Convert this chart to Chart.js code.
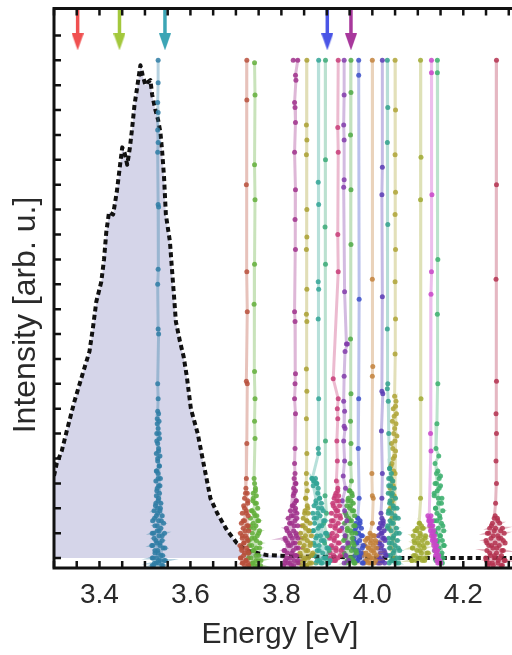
<!DOCTYPE html>
<html>
<head>
<meta charset="utf-8">
<script src="https://cdn.jsdelivr.net/npm/chart.js@4/dist/chart.umd.min.js"></script>
<style>
  html, body { margin: 0; padding: 0; overflow: hidden; background: #fff; }
  #wrap { width: 540px; height: 655px; }
</style>
</head>
<body>
<div id="wrap"><canvas id="chart" width="540" height="655"></canvas></div>
<script>
// axis range and labelled ticks
const xMin = 3.3;
const xMax = 4.35;
const yMin = -0.4;
const yMax = 22.08;
const xTickLabels = [3.4, 3.6, 3.8, 4.0, 4.2];
const xTitle = "Energy [eV]";
const yTitle = "Intensity [arb. u.]";

// ensemble PL spectrum (dashed curve with fill)
const plE = [3.300, 3.306, 3.317, 3.328, 3.345, 3.363, 3.378, 3.386, 3.393, 3.404, 3.410, 3.415, 3.421, 3.430, 3.438,
  3.444, 3.450, 3.455, 3.461, 3.467, 3.472, 3.477, 3.482, 3.486, 3.490, 3.495, 3.501, 3.505, 3.512, 3.516, 3.523,
  3.529, 3.534, 3.538, 3.542, 3.546, 3.555, 3.559, 3.564, 3.568, 3.577, 3.585, 3.592, 3.601, 3.616, 3.631, 3.644,
  3.659, 3.681, 3.702, 3.724, 3.767, 3.810, 3.897, 4.048, 4.178, 4.350];
const plI = [3.3, 3.8, 4.3, 5.1, 6.3, 7.4, 8.3, 9.3, 10.3, 11.1, 12.0, 13.1, 13.9, 13.8, 14.7,
  15.6, 16.5, 16.3, 15.8, 16.5, 17.3, 18.2, 18.8, 19.3, 19.8, 19.4, 19.0, 19.1, 19.2, 18.6, 18.0,
  17.6, 17.1, 16.3, 15.3, 13.8, 12.7, 11.7, 10.5, 9.5, 8.7, 8.1, 7.3, 6.0, 5.0, 3.6, 2.4,
  1.8, 1.1, 0.6, 0.3, 0.12, 0.08, 0.05, 0.0, 0.0, 0.0];

// single emitter traces [energy, intensity]
const em3528 = [[3.529,20.0],[3.529,19.1],[3.528,18.3],[3.529,17.9],[3.528,17.2],[3.529,16.7],[3.528,16.3],[3.529,14.2],[3.530,14.1],[3.529,11.6],[3.528,11.0],[3.529,9.2],[3.530,9.0],[3.528,7.0],[3.529,6.4],[3.528,5.9],[3.530,5.8],
  [3.527,5.4],[3.531,5.0],[3.526,4.7],[3.530,4.3],[3.528,4.0],[3.532,3.7],[3.525,3.5],[3.529,3.2],[3.533,2.9],[3.526,2.7],[3.530,2.4],[3.524,2.2],[3.534,2.0],[3.528,1.8],[3.521,1.6],[3.536,1.5],[3.527,1.3],[3.531,1.1],[3.519,1.0],[3.538,0.9],[3.524,0.7],[3.533,0.6],[3.517,0.5],[3.540,0.4],[3.528,0.3],[3.522,0.2],[3.535,0.1],[3.516,0.0],[3.530,-0.1],[3.542,-0.1],[3.525,-0.2],[3.519,-0.3],[3.537,-0.3]];
const cl3528 = [[3.527,5.6],[3.531,5.5],[3.529,5.2],[3.526,5.0],[3.532,4.8],[3.528,4.6],[3.530,4.4],[3.525,4.2],[3.533,4.1],[3.528,3.9],[3.531,3.7],[3.526,3.5],[3.529,3.4],[3.534,3.2],[3.524,3.1],[3.530,2.9],[3.527,2.8],[3.532,2.6],[3.525,2.5],[3.529,2.3],[3.535,2.2],[3.523,2.1],
  [3.528,2.0],[3.520,1.9],[3.533,1.9],[3.538,1.7],[3.525,1.7],[3.517,1.5],[3.530,1.5],[3.541,1.4],[3.522,1.3],[3.535,1.2],[3.527,1.1],[3.516,1.0],[3.543,1.0],[3.531,0.9],[3.520,0.8],[3.538,0.7],[3.526,0.6],[3.515,0.5],[3.533,0.5],[3.544,0.4],[3.522,0.3],[3.529,0.2],[3.539,0.1],[3.518,0.0],[3.526,0.0],[3.534,-0.1],[3.545,-0.1],[3.521,-0.2],[3.530,-0.2],[3.516,-0.3],[3.540,-0.3]];
const em3724 = [[3.724,20.0],[3.724,18.4],[3.723,15.0],[3.724,11.5],[3.725,9.9],[3.723,7.1],[3.725,7.0],[3.724,4.6],[3.723,3.2],[3.721,2.6],[3.726,2.3],[3.719,2.0],[3.723,1.8],[3.716,1.5],[3.727,1.3],[3.720,1.1],[3.714,0.9],[3.724,0.8],[3.717,0.6],[3.712,0.4],[3.726,0.3],[3.719,0.2],[3.711,0.0],[3.722,-0.1],[3.715,-0.2],[3.728,-0.3]];
const cl3724 = [[3.722,2.8],[3.725,2.6],[3.719,2.4],[3.726,2.2],[3.717,2.1],[3.723,1.9],[3.714,1.8],[3.727,1.7],[3.719,1.5],[3.712,1.4],[3.724,1.3],[3.716,1.2],[3.728,1.1],[3.710,1.0],[3.721,0.9],[3.714,0.8],[3.726,0.7],[3.718,0.6],[3.709,0.5],[3.723,0.4],[3.713,0.3],[3.728,0.2],[3.717,0.1],[3.710,0.0],[3.722,-0.1],[3.714,-0.2],[3.726,-0.2],[3.719,-0.3]];
const em3741 = [[3.741,19.9],[3.742,18.6],[3.741,15.8],[3.742,14.4],[3.741,11.8],[3.740,10.2],[3.741,7.5],[3.742,6.4],[3.741,5.5],[3.742,4.8],[3.740,3.2],[3.743,2.7],[3.738,2.4],[3.745,2.2],[3.736,1.9],[3.742,1.7],[3.748,1.5],[3.733,1.3],[3.740,1.2],[3.750,1.0],[3.735,0.8],[3.745,0.7],[3.730,0.5],[3.752,0.4],[3.738,0.3],[3.744,0.1],[3.728,0.0],[3.749,-0.1],[3.736,-0.2],[3.754,-0.3],[3.741,-0.3]];
const cl3741 = [[3.741,3.0],[3.743,2.8],[3.738,2.6],[3.745,2.5],[3.737,2.3],[3.742,2.2],[3.748,2.0],[3.734,1.9],[3.740,1.8],[3.746,1.7],[3.732,1.6],[3.750,1.5],[3.738,1.4],[3.744,1.3],[3.730,1.2],[3.752,1.1],[3.736,1.0],[3.747,0.9],[3.741,0.8],[3.729,0.7],[3.753,0.6],[3.735,0.5],[3.745,0.4],[3.739,0.3],[3.727,0.2],[3.750,0.1],[3.733,0.0],[3.744,-0.1],[3.755,-0.1],[3.738,-0.2],[3.730,-0.3],[3.748,-0.3]];
const em3830 = [[3.826,20.0],[3.836,20.0],[3.831,19.4],[3.832,19.2],[3.829,18.3],[3.830,18.1],[3.831,17.5],[3.829,16.3],[3.831,14.8],[3.830,13.6],[3.831,12.4],[3.829,9.9],[3.830,9.5],[3.831,7.4],[3.830,7.0],[3.829,6.4],[3.831,5.8],[3.830,4.4],[3.829,3.8],[3.831,3.0],[3.828,2.6],[3.832,2.3],[3.826,2.1],[3.830,1.9],[3.822,1.7],[3.834,1.6],[3.818,1.4],[3.828,1.3],[3.813,1.1],[3.832,1.0],[3.820,0.9],[3.836,0.8],[3.810,0.7],[3.826,0.6],[3.816,0.5],[3.833,0.4],[3.807,0.3],[3.823,0.2],[3.830,0.1],[3.812,0.0],[3.836,-0.1],[3.819,-0.2],[3.827,-0.3],[3.808,-0.2]];
const cl3830 = [[3.830,3.4],[3.828,3.2],[3.832,3.0],[3.827,2.8],[3.831,2.7],[3.826,2.5],[3.833,2.3],[3.829,2.2],[3.824,2.1],[3.831,2.0],[3.820,1.9],[3.834,1.8],[3.826,1.7],[3.815,1.6],[3.830,1.5],[3.822,1.4],[3.836,1.3],[3.811,1.2],[3.827,1.1],[3.818,1.0],[3.833,0.9],[3.808,0.8],[3.824,0.8],[3.814,0.6],[3.830,0.6],[3.820,0.5],[3.837,0.4],[3.806,0.3],[3.826,0.3],[3.813,0.2],[3.833,0.1],[3.819,0.0],[3.809,-0.1],[3.828,-0.1],[3.836,-0.2],[3.815,-0.2],[3.822,-0.3],[3.805,-0.3]];
const em3856 = [[3.856,20.0],[3.855,17.4],[3.856,16.8],[3.855,16.2],[3.856,14.0],[3.856,12.9],[3.855,12.4],[3.856,10.8],[3.855,9.8],[3.856,9.5],[3.855,7.6],[3.856,6.7],[3.855,5.6],[3.856,4.2],[3.855,3.4],[3.853,2.4],[3.858,2.0],[3.851,1.8],[3.856,1.5],[3.848,1.3],[3.861,1.1],[3.853,0.9],[3.844,0.8],[3.864,0.6],[3.850,0.5],[3.858,0.3],[3.841,0.2],[3.866,0.1],[3.852,0.0],[3.846,-0.1],[3.862,-0.2],[3.855,-0.3]];
const cl3856 = [[3.855,3.0],[3.857,2.7],[3.854,2.4],[3.857,2.1],[3.852,1.9],[3.859,1.8],[3.848,1.6],[3.856,1.5],[3.863,1.4],[3.845,1.3],[3.853,1.2],[3.860,1.1],[3.842,1.0],[3.866,0.9],[3.850,0.8],[3.857,0.7],[3.840,0.6],[3.863,0.5],[3.847,0.4],[3.854,0.3],[3.869,0.2],[3.843,0.1],[3.859,0.0],[3.850,-0.1],[3.866,-0.2],[3.839,-0.2],[3.856,-0.3],[3.845,-0.3]];
const em3882 = [[3.882,20.0],[3.881,15.1],[3.882,14.2],[3.881,11.1],[3.882,10.8],[3.881,9.6],[3.882,6.4],[3.881,4.4],[3.882,4.2],[3.868,3.2],[3.872,3.1],[3.877,3.0],[3.881,2.8],[3.884,2.4],[3.876,2.2],[3.889,2.0],[3.880,1.8],[3.872,1.6],[3.893,1.5],[3.884,1.3],[3.870,1.1],[3.897,1.0],[3.878,0.9],[3.888,0.7],[3.874,0.5],[3.900,0.4],[3.883,0.3],[3.869,0.1],[3.893,0.0],[3.879,-0.1],[3.887,-0.2],[3.904,-0.2]];
const cl3882 = [[3.867,3.2],[3.871,3.1],[3.875,3.2],[3.878,3.0],[3.870,2.9],[3.880,2.6],[3.884,2.4],[3.876,2.3],[3.888,2.2],[3.872,2.1],[3.881,2.0],[3.892,1.9],[3.869,1.8],[3.885,1.7],[3.877,1.6],[3.896,1.5],[3.873,1.4],[3.889,1.3],[3.881,1.2],[3.870,1.1],[3.899,1.0],[3.886,0.9],[3.876,0.8],[3.893,0.7],[3.871,0.6],[3.883,0.5],[3.903,0.4],[3.879,0.3],[3.891,0.2],[3.872,0.1],[3.897,0.0],[3.884,-0.1],[3.907,-0.1],[3.876,-0.2],[3.890,-0.2]];
const em3897 = [[3.897,20.0],[3.897,16.0],[3.896,13.3],[3.897,11.8],[3.897,4.7],[3.896,2.5],[3.899,1.8],[3.893,1.4],[3.901,0.9],[3.895,0.6],[3.905,0.3],[3.897,0.0],[3.902,-0.2]];
const em3925 = [[3.925,20.0],[3.924,17.3],[3.925,16.3],[3.924,13.0],[3.925,11.5],[3.914,7.2],[3.925,6.4],[3.923,6.0],[3.924,5.6],[3.922,4.7],[3.923,3.9],[3.921,3.1],[3.924,2.7],[3.918,2.5],[3.926,2.3],[3.914,2.1],[3.921,1.9],[3.929,1.7],[3.910,1.5],[3.919,1.3],[3.927,1.1],[3.907,0.9],[3.916,0.8],[3.925,0.6],[3.911,0.4],[3.920,0.3],[3.930,0.1],[3.906,0.0],[3.917,-0.1]];
const cl3925 = [[3.924,2.8],[3.920,2.6],[3.926,2.5],[3.916,2.4],[3.922,2.3],[3.913,2.2],[3.928,2.1],[3.918,2.0],[3.924,1.9],[3.910,1.8],[3.920,1.7],[3.930,1.6],[3.914,1.5],[3.925,1.4],[3.908,1.3],[3.918,1.2],[3.929,1.1],[3.912,1.0],[3.922,0.9],[3.906,0.8],[3.916,0.7],[3.927,0.6],[3.910,0.5],[3.920,0.4],[3.931,0.3],[3.907,0.2],[3.915,0.1],[3.924,0.0],[3.911,-0.1],[3.919,-0.1]];
const em3938 = [[3.938,20.0],[3.938,18.6],[3.937,17.4],[3.938,16.8],[3.938,15.2],[3.937,14.9],[3.939,10.7],[3.943,8.6],[3.945,8.6],[3.940,8.3],[3.938,7.3],[3.937,6.3],[3.939,5.9],[3.938,5.3],[3.940,5.2],[3.937,4.7],[3.939,3.9],[3.936,3.3],[3.941,2.8],[3.934,2.3],[3.939,1.9],[3.944,1.5],[3.933,1.2],[3.940,0.9],[3.946,0.6],[3.935,0.4],[3.942,0.1],[3.948,-0.1],[3.938,-0.2]];
const em3953 = [[3.953,20.0],[3.953,18.7],[3.952,17.0],[3.953,14.8],[3.953,12.6],[3.952,8.8],[3.953,6.6],[3.952,5.5],[3.953,4.6],[3.951,3.8],[3.954,3.1],[3.949,2.7],[3.956,2.5],[3.946,2.3],[3.952,2.1],[3.959,1.9],[3.943,1.7],[3.950,1.5],[3.962,1.3],[3.945,1.1],[3.955,1.0],[3.940,0.8],[3.958,0.6],[3.948,0.5],[3.964,0.3],[3.938,0.2],[3.953,0.0],[3.945,-0.1],[3.960,-0.2]];
const cl3953 = [[3.951,2.7],[3.955,2.6],[3.947,2.4],[3.953,2.3],[3.958,2.2],[3.944,2.1],[3.950,2.0],[3.956,1.9],[3.941,1.8],[3.961,1.7],[3.948,1.6],[3.954,1.5],[3.939,1.4],[3.959,1.3],[3.945,1.2],[3.952,1.1],[3.963,1.0],[3.942,0.9],[3.956,0.8],[3.937,0.7],[3.949,0.6],[3.960,0.5],[3.944,0.4],[3.954,0.3],[3.965,0.2],[3.939,0.1],[3.950,0.0],[3.958,-0.1],[3.943,-0.2],[3.962,-0.2]];
const em3970 = [[3.970,20.0],[3.970,19.4],[3.971,10.4],[3.970,6.4],[3.969,4.4],[3.971,2.4],[3.968,1.6],[3.973,1.4],[3.963,1.2],[3.970,1.0],[3.976,0.9],[3.959,0.7],[3.966,0.6],[3.978,0.4],[3.962,0.3],[3.972,0.1],[3.957,0.0],[3.968,-0.1],[3.980,-0.2]];
const cl3970 = [[3.968,1.6],[3.973,1.5],[3.964,1.4],[3.970,1.3],[3.976,1.2],[3.961,1.1],[3.967,1.0],[3.978,0.9],[3.959,0.8],[3.972,0.7],[3.965,0.6],[3.980,0.5],[3.958,0.4],[3.969,0.3],[3.975,0.2],[3.962,0.1],[3.971,0.0],[3.957,-0.1],[3.966,-0.1],[3.978,-0.2]];
const em4000 = [[4.000,20.0],[4.000,11.2],[4.001,7.7],[4.000,7.3],[3.999,3.4],[4.000,2.5],[4.002,2.4],[4.000,1.4],[3.995,1.0],[4.004,0.9],[3.989,0.8],[3.998,0.7],[4.007,0.6],[3.984,0.5],[3.993,0.4],[4.002,0.3],[3.980,0.2],[3.990,0.1],[4.009,0.1],[3.996,0.0],[3.985,-0.1],[4.004,-0.2],[3.992,-0.2]];
const cl4000 = [[3.997,0.9],[4.003,0.9],[3.990,0.8],[4.007,0.7],[3.985,0.7],[3.996,0.6],[4.002,0.5],[3.982,0.5],[3.991,0.4],[4.009,0.4],[3.998,0.3],[3.986,0.2],[4.004,0.2],[3.980,0.1],[3.993,0.1],[4.000,0.0],[3.988,-0.1],[4.007,-0.1],[3.983,-0.2],[3.996,-0.2]];
const em4022 = [[4.022,20.0],[4.022,15.7],[4.021,14.6],[4.022,10.5],[4.021,6.7],[4.023,6.6],[4.020,5.1],[4.022,3.4],[4.021,2.4],[4.019,1.8],[4.024,1.4],[4.016,1.2],[4.021,1.0],[4.026,0.8],[4.014,0.6],[4.019,0.4],[4.028,0.2],[4.016,0.0],[4.022,-0.1],[4.013,-0.2]];
const cl4022 = [[4.021,1.6],[4.024,1.5],[4.018,1.4],[4.022,1.3],[4.015,1.2],[4.026,1.1],[4.019,1.0],[4.013,0.9],[4.023,0.8],[4.028,0.7],[4.016,0.6],[4.021,0.5],[4.012,0.4],[4.026,0.3],[4.018,0.2],[4.030,0.1],[4.014,0.0],[4.022,-0.1],[4.017,-0.2],[4.027,-0.2]];
const em4033 = [[4.033,20.0],[4.034,18.1],[4.033,16.7],[4.034,13.4],[4.033,9.2],[4.034,7.0],[4.033,6.8],[4.035,6.3],[4.036,5.0],[4.038,3.6],[4.041,3.2],[4.036,2.9],[4.044,2.6],[4.039,2.3],[4.047,2.0],[4.035,1.8],[4.050,1.6],[4.042,1.4],[4.033,1.2],[4.053,1.0],[4.045,0.8],[4.037,0.6],[4.057,0.4],[4.048,0.3],[4.040,0.1],[4.060,0.0],[4.044,-0.1],[4.052,-0.2]];
const cl4033 = [[4.038,3.6],[4.042,3.4],[4.036,3.2],[4.045,3.1],[4.040,2.9],[4.048,2.8],[4.035,2.6],[4.043,2.5],[4.051,2.4],[4.038,2.2],[4.046,2.1],[4.054,2.0],[4.036,1.9],[4.042,1.8],[4.050,1.7],[4.057,1.6],[4.039,1.5],[4.046,1.4],[4.034,1.3],[4.053,1.2],[4.041,1.1],[4.059,1.0],[4.047,0.9],[4.036,0.8],[4.055,0.7],[4.043,0.6],[4.050,0.5],[4.038,0.4],[4.060,0.3],[4.046,0.2],[4.034,0.1],[4.054,0.0],[4.041,-0.1],[4.049,-0.1],[4.058,-0.2],[4.037,-0.2]];
const em4050 = [[4.050,20.0],[4.051,18.0],[4.050,16.2],[4.051,14.7],[4.050,13.8],[4.051,12.4],[4.050,11.1],[4.051,9.6],[4.050,8.2],[4.049,6.5],[4.051,6.1],[4.048,5.7],[4.052,5.4],[4.047,5.0],[4.050,4.7],[4.045,4.4],[4.049,4.1],[4.043,3.8],[4.047,3.5],[4.041,3.2],[4.046,2.9],[4.040,2.6],[4.044,2.3],[4.039,2.0],[4.043,1.6],[4.037,1.2],[4.045,0.8],[4.040,0.4],[4.048,0.0]];
const cl4050 = [[4.052,6.3],[4.046,6.0],[4.053,5.8],[4.044,5.5],[4.049,5.2],[4.054,4.9],[4.042,4.6],[4.051,4.3],[4.046,4.0],[4.041,3.7],[4.050,3.4],[4.044,3.1],[4.039,2.8],[4.048,2.5],[4.042,2.2],[4.038,1.9]];
const em4106 = [[4.106,20.0],[4.107,16.1],[4.106,14.4],[4.107,6.4],[4.106,2.4],[4.103,1.4],[4.110,1.2],[4.097,1.1],[4.106,0.9],[4.116,0.8],[4.092,0.7],[4.101,0.6],[4.112,0.5],[4.089,0.4],[4.105,0.3],[4.120,0.2],[4.095,0.1],[4.109,0.0],[4.087,-0.1],[4.115,-0.1]];
const cl4106 = [[4.104,1.4],[4.108,1.3],[4.099,1.2],[4.112,1.2],[4.094,1.1],[4.105,1.0],[4.117,0.9],[4.090,0.9],[4.100,0.8],[4.110,0.7],[4.121,0.6],[4.093,0.6],[4.104,0.5],[4.088,0.4],[4.114,0.4],[4.098,0.3],[4.108,0.2],[4.123,0.2],[4.091,0.1],[4.102,0.0],[4.117,0.0],[4.087,-0.1],[4.110,-0.1],[4.096,-0.1]];
const em4130 = [[4.130,20.0],[4.130,19.5],[4.131,14.6],[4.130,11.5],[4.129,10.6],[4.128,5.0],[4.129,4.3],[4.125,1.6],[4.127,1.5],[4.127,1.4],[4.131,1.3],[4.129,1.2],[4.131,1.0],[4.134,0.9],[4.133,0.8],[4.137,0.7],[4.135,0.6],[4.140,0.5],[4.138,0.4],[4.143,0.3],[4.141,0.2],[4.144,0.0],[4.147,-0.1],[4.149,-0.2]];
const cl4130 = [[4.122,1.7],[4.129,1.7],[4.124,1.5],[4.131,1.5],[4.126,1.3],[4.133,1.3],[4.128,1.1],[4.135,1.1],[4.130,0.9],[4.137,0.9],[4.132,0.7],[4.139,0.7],[4.135,0.5],[4.141,0.5],[4.137,0.3],[4.143,0.3],[4.139,0.1],[4.146,0.1],[4.142,-0.1],[4.148,-0.1],[4.144,-0.2],[4.150,-0.2]];
const em4143 = [[4.143,20.0],[4.143,19.5],[4.144,12.0],[4.143,9.8],[4.144,7.0],[4.142,5.4],[4.140,4.4],[4.146,4.1],[4.138,3.8],[4.144,3.5],[4.150,3.3],[4.141,3.0],[4.147,2.8],[4.136,2.6],[4.145,2.4],[4.152,2.2],[4.139,2.0],[4.148,1.7],[4.142,1.5],[4.155,1.3],[4.137,1.1],[4.150,0.9],[4.144,0.7],[4.157,0.5],[4.139,0.3],[4.151,0.1],[4.146,-0.1],[4.154,-0.2]];
const cl4143 = [[4.141,3.4],[4.147,3.2],[4.138,3.0],[4.150,2.9],[4.143,2.7],[4.136,2.5],[4.153,2.4],[4.146,2.2],[4.139,2.0],[4.155,1.9],[4.142,1.8],[4.149,1.6],[4.136,1.5],[4.152,1.4],[4.145,1.2],[4.157,1.1],[4.139,1.0],[4.148,0.9],[4.154,0.7],[4.142,0.6],[4.158,0.5],[4.147,0.4],[4.137,0.3],[4.153,0.2],[4.144,0.1],[4.156,0.0],[4.140,-0.1],[4.150,-0.2]];
const em4273 = [[4.273,20.0],[4.273,15.0],[4.272,11.2],[4.273,7.1],[4.272,5.8],[4.273,5.0],[4.272,3.9],[4.273,3.0],[4.271,2.2],[4.268,1.6],[4.276,1.5],[4.262,1.3],[4.271,1.2],[4.282,1.1],[4.256,1.0],[4.266,0.9],[4.278,0.8],[4.288,0.7],[4.252,0.6],[4.262,0.5],[4.274,0.4],[4.285,0.3],[4.258,0.2],[4.269,0.1],[4.280,0.0],[4.251,-0.1],[4.264,-0.2],[4.276,-0.2],[4.290,-0.1],[4.286,-0.3],[4.255,-0.3]];
const cl4273 = [[4.270,1.7],[4.275,1.6],[4.264,1.4],[4.280,1.4],[4.258,1.2],[4.286,1.2],[4.268,1.1],[4.253,1.0],[4.290,1.0],[4.276,0.9],[4.261,0.8],[4.283,0.8],[4.250,0.7],[4.270,0.6],[4.292,0.6],[4.256,0.5],[4.279,0.5],[4.265,0.4],[4.288,0.3],[4.252,0.3],[4.273,0.2],[4.260,0.1],[4.284,0.1],[4.249,0.0],[4.268,0.0],[4.292,-0.1],[4.277,-0.1],[4.257,-0.2],[4.266,-0.3],[4.283,-0.3]];

// excitation arrows at the top
const arrowE = [3.352, 3.444, 3.544, 3.901, 3.953];
const arrowTop = 22.08;
const arrowHead = 20.74;

// styles
const emitters = [
  em3528.concat(cl3528), em3724.concat(cl3724), em3741.concat(cl3741), em3830.concat(cl3830),
  em3856.concat(cl3856), em3882.concat(cl3882), em3897, em3925.concat(cl3925), em3938,
  em3953.concat(cl3953), em3970.concat(cl3970), em4000.concat(cl4000), em4022.concat(cl4022),
  em4033.concat(cl4033), em4050.concat(cl4050), em4106.concat(cl4106), em4130.concat(cl4130),
  em4143.concat(cl4143), em4273.concat(cl4273)
];
const emitterRgb = [
  [47, 125, 165], [185, 80, 60], [100, 175, 60], [160, 50, 140], [170, 160, 50],
  [50, 165, 150], [60, 170, 120], [200, 60, 120], [130, 60, 170], [80, 170, 70],
  [60, 80, 200], [195, 130, 60], [90, 60, 180], [50, 160, 140], [175, 165, 55],
  [160, 170, 50], [200, 70, 200], [60, 175, 110], [180, 50, 80]
];
const arrowColors = ["#f05050", "#a3c83c", "#3ca5b5", "#4a55e6", "#a8389c"];
const textColor = "#2a2a2a";
const fontFamily = "'Liberation Sans', Arial, sans-serif";

function rgba(c, a) {
  return "rgba(" + c[0] + "," + c[1] + "," + c[2] + "," + a + ")";
}

function arrowHeadImage(color) {
  const c = document.createElement("canvas");
  c.width = 12;
  c.height = 17;
  const g = c.getContext("2d");
  g.fillStyle = color;
  g.beginPath();
  g.moveTo(0, 0);
  g.lineTo(12, 0);
  g.lineTo(6, 17);
  g.closePath();
  g.fill();
  return c;
}

const datasets = [];

arrowE.forEach((e, i) => {
  const head = arrowHeadImage(arrowColors[i]);
  datasets.push({
    data: [{ x: e, y: arrowTop }, { x: e, y: arrowHead }],
    borderColor: arrowColors[i],
    borderWidth: 3.5,
    pointRadius: [0, 5],
    pointStyle: [false, head],
    order: 0
  });
});

emitters.forEach((pts, i) => {
  datasets.push({
    data: pts.map(p => ({ x: p[0], y: p[1] })),
    borderColor: rgba(emitterRgb[i], 0.35),
    borderWidth: 3,
    pointRadius: 2.5,
    pointBorderWidth: 0,
    pointBackgroundColor: rgba(emitterRgb[i], 0.85),
    order: 1
  });
});

datasets.push({
  data: plE.map((e, i) => ({ x: e, y: plI[i] })),
  borderColor: "#111",
  borderWidth: 4,
  borderDash: [5, 3.5],
  borderJoinStyle: "round",
  pointRadius: 0,
  fill: "origin",
  backgroundColor: "#d5d5e9",
  order: 2
});

// frame, inward ticks and axis titles
const framePlugin = {
  id: "frame",
  afterDraw(chart) {
    const { ctx, chartArea: a, scales } = chart;
    const x = scales.x;
    const y = scales.y;
    ctx.save();
    ctx.strokeStyle = "#111";
    ctx.lineWidth = 2.5;
    ctx.beginPath();
    const nx = Math.round((xMax - xMin) / 0.05);
    for (let k = 0; k <= nx; k++) {
      const px = x.getPixelForValue(xMin + k * 0.05);
      ctx.moveTo(px, a.bottom);
      ctx.lineTo(px, a.bottom - 7);
      ctx.moveTo(px, a.top);
      ctx.lineTo(px, a.top + 7);
    }
    for (let v = 0; v <= 21; v++) {
      const py = y.getPixelForValue(v);
      ctx.moveTo(a.left, py);
      ctx.lineTo(a.left + 7, py);
      ctx.moveTo(a.right, py);
      ctx.lineTo(a.right - 7, py);
    }
    ctx.stroke();
    ctx.lineWidth = 3;
    ctx.strokeRect(a.left, a.top, a.right - a.left, a.bottom - a.top);

    ctx.fillStyle = textColor;
    ctx.textAlign = "center";
    ctx.textBaseline = "middle";
    ctx.font = "30px " + fontFamily;
    ctx.fillText(xTitle, 280, 635);
    ctx.translate(26, 315);
    ctx.rotate(-Math.PI / 2);
    ctx.font = "32px " + fontFamily;
    ctx.fillText(yTitle, 0, 0);
    ctx.restore();
  }
};

new Chart(document.getElementById("chart").getContext("2d"), {
  type: "line",
  data: { datasets },
  options: {
    responsive: false,
    animation: false,
    layout: { padding: { top: 8, left: 0, right: 0, bottom: 0 } },
    plugins: { legend: { display: false }, tooltip: { enabled: false } },
    elements: { line: { tension: 0 } },
    scales: {
      x: {
        type: "linear",
        min: xMin,
        max: xMax,
        afterBuildTicks: s => { s.ticks = xTickLabels.map(v => ({ value: v })); },
        afterFit: s => { s.height = 87; },
        grid: { display: false, drawTicks: false },
        border: { display: false },
        ticks: {
          padding: 10,
          autoSkip: false,
          maxRotation: 0,
          color: textColor,
          font: { family: fontFamily, size: 28 },
          callback: v => Number(v).toFixed(1)
        }
      },
      y: {
        type: "linear",
        min: yMin,
        max: yMax,
        afterFit: s => { s.width = 54; },
        grid: { display: false, drawTicks: false },
        border: { display: false },
        ticks: { display: false }
      }
    }
  },
  plugins: [framePlugin]
});
</script>
</body>
</html>
